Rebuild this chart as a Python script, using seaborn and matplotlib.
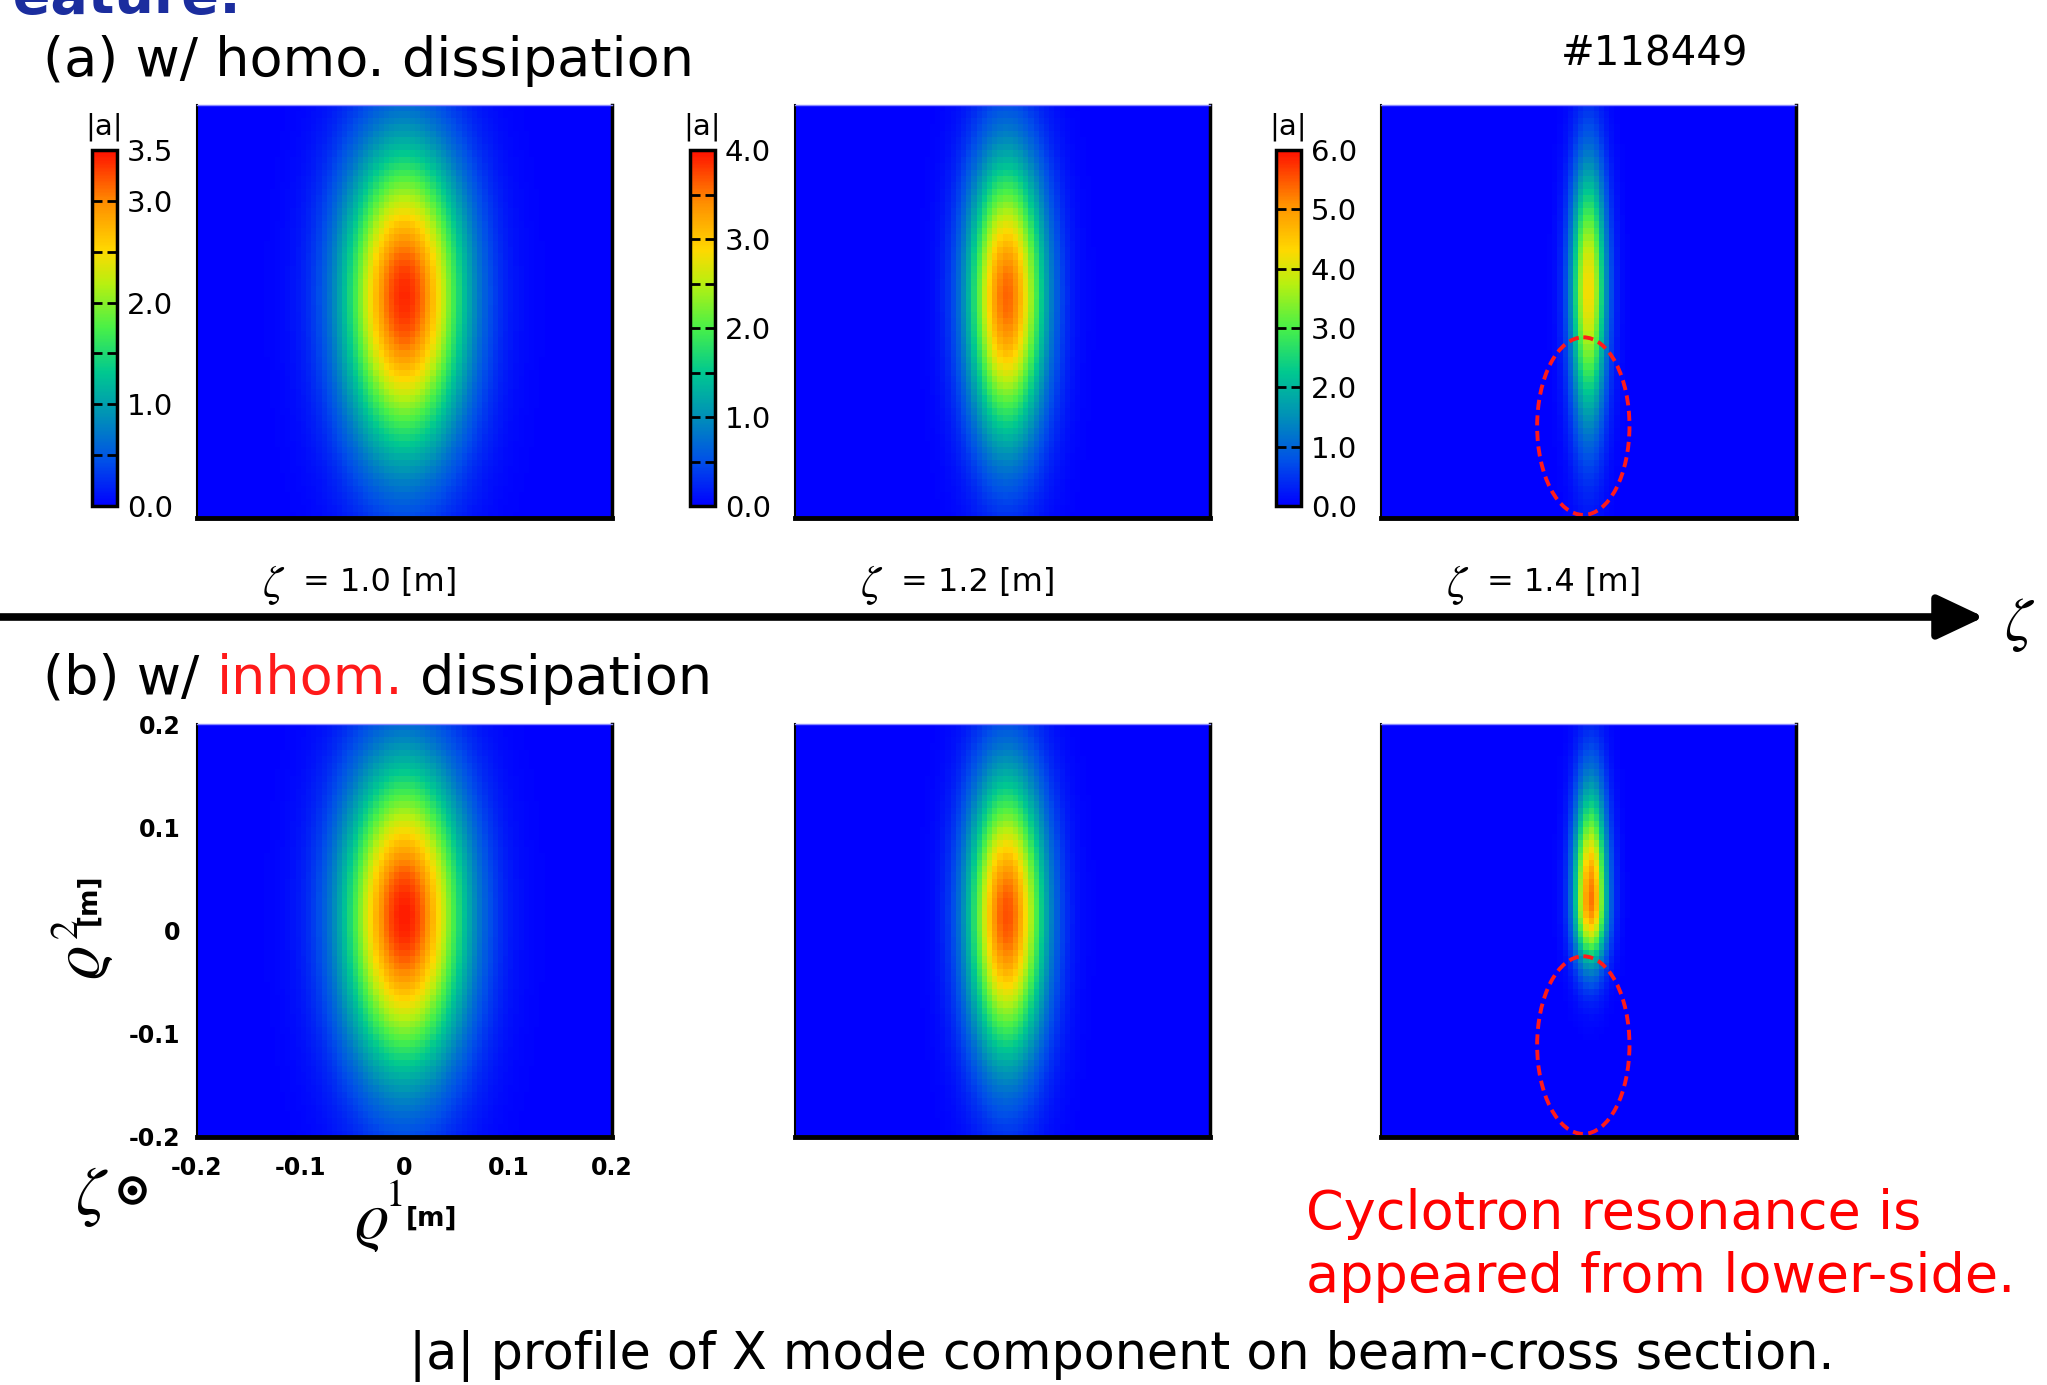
import numpy as np
import matplotlib
matplotlib.use('Agg')
import matplotlib.pyplot as plt
import seaborn as sns
from matplotlib.colors import LinearSegmentedColormap
from matplotlib.patches import Ellipse, FancyArrowPatch
from matplotlib.lines import Line2D

plt.rcParams['font.family'] = ['DejaVu Sans']
plt.rcParams['mathtext.fontset'] = 'custom'
plt.rcParams['mathtext.it'] = 'STIXGeneral:italic'
plt.rcParams['mathtext.rm'] = 'STIXGeneral'
plt.rcParams['mathtext.bf'] = 'DejaVu Sans:bold'

# beam-cross section (rho1, rho2 in m)
rho_lim = 0.2
n_cols, n_rows = 80, 64
rho_ticks = [-0.2, -0.1, 0.0, 0.1, 0.2]
rho_tick_labels = ['-0.2', '-0.1', '0', '0.1', '0.2']

zeta_values = [1.0, 1.2, 1.4]
cbar_max = [3.5, 4.0, 6.0]
cbar_ticks = [[0.0, 1.0, 2.0, 3.0, 3.5],
              [0.0, 1.0, 2.0, 3.0, 4.0],
              [0.0, 1.0, 2.0, 3.0, 4.0, 5.0, 6.0]]
cbar_dash_step = [0.5, 0.5, 1.0]

# beam: peak |a|, centre and widths [m]
homo_peak = [3.4, 3.6, 4.3]
homo_rho1_center = [0.0, 0.004, 0.0]
homo_rho2_center = [0.015, 0.015, 0.022]
homo_width_rho1 = [0.041, 0.026, 0.012]
homo_width_up = [0.102, 0.095, 0.085]
homo_width_down = [0.106, 0.098, 0.09]

inhom_peak = [3.45, 3.7, 5.3]
inhom_rho1_center = [0.0, 0.004, 0.002]
inhom_rho2_center = [0.015, 0.015, 0.029]
inhom_width_rho1 = [0.041, 0.026, 0.011]
inhom_width_up = [0.102, 0.095, 0.075]
inhom_width_down = [0.106, 0.098, 0.042]

# resonance region marked on the zeta = 1.4 m panels
res_center = (-0.005, -0.111)
res_size = (0.089, 0.172)


def beam(peak, c1, c2, w1, w_up, w_down):
    rho1 = np.linspace(-rho_lim, rho_lim, n_cols)
    rho2 = np.linspace(rho_lim, -rho_lim, n_rows)
    R1, R2 = np.meshgrid(rho1, rho2)
    w2 = np.where(R2 >= c2, w_up, w_down)
    return peak * np.exp(-0.5 * ((R1 - c1) / w1) ** 2 - 0.5 * ((R2 - c2) / w2) ** 2)


def to_col(r):
    return (r + rho_lim) / (2 * rho_lim) * n_cols


def to_row(r):
    return (rho_lim - r) / (2 * rho_lim) * n_rows


rainbow = LinearSegmentedColormap.from_list('rainbow_a', [
    (0.0, '#0000ff'), (0.125, '#0050e8'), (0.25, '#0090b8'), (0.375, '#00c890'),
    (0.5, '#48f048'), (0.625, '#b8f010'), (0.72, '#ffd800'), (0.85, '#ff9000'),
    (1.0, '#ff1000')])

W, H = 2047, 1385
fig = plt.figure(figsize=(W / 100, H / 100), dpi=100)


def fx(px):
    return px / W


def fy(py):
    return 1 - py / H


panel_left = [197, 795, 1381]
row_top = [105, 724]
panel_w, panel_h = 415, 413

rows = [
    (homo_peak, homo_rho1_center, homo_rho2_center, homo_width_rho1, homo_width_up, homo_width_down),
    (inhom_peak, inhom_rho1_center, inhom_rho2_center, inhom_width_rho1, inhom_width_up, inhom_width_down),
]

for r, params in enumerate(rows):
    for c in range(3):
        field = beam(*[p[c] for p in params])
        ax = fig.add_axes([fx(panel_left[c]), fy(row_top[r] + panel_h), panel_w / W, panel_h / H])
        cax = None
        if r == 0:
            cax = fig.add_axes([fx(panel_left[c] - 105), fy(506), 25 / W, 356 / H])
        sns.heatmap(field, ax=ax, cmap=rainbow, vmin=0, vmax=cbar_max[c],
                    cbar=(r == 0), cbar_ax=cax, xticklabels=False, yticklabels=False,
                    rasterized=True)
        for side in ['left', 'right', 'top', 'bottom']:
            ax.spines[side].set_visible(True)
            ax.spines[side].set_color('black')
        ax.spines['left'].set_linewidth(1.5)
        ax.spines['bottom'].set_linewidth(3.5)
        ax.spines['right'].set_linewidth(2.5)
        ax.spines['top'].set_linewidth(1)
        ax.spines['top'].set_color('#8a8aff')
        if r == 0:
            cb = ax.collections[0].colorbar
            cb.set_ticks(cbar_ticks[c])
            cb.set_ticklabels(['%.1f' % t for t in cbar_ticks[c]])
            cax.tick_params(length=0, labelsize=21, pad=7)
            cb.outline.set_linewidth(2.5)
            cb.outline.set_edgecolor('black')
            for v in np.arange(cbar_dash_step[c], cbar_max[c] - 1e-6, cbar_dash_step[c]):
                cax.axhline(v, color='black', lw=2, ls=(0, (3.6, 1.8)))
            cax.set_title('|a|', fontsize=21, pad=11)
        if c == 2:
            ax.add_patch(Ellipse((to_col(res_center[0]), to_row(res_center[1])),
                                 res_size[0] / (2 * rho_lim) * n_cols,
                                 res_size[1] / (2 * rho_lim) * n_rows,
                                 fill=False, ec='#ff1a1a', lw=2.8, ls=(0, (2.6, 1.4))))
        if r == 1 and c == 0:
            ax.set_xticks([to_col(v) for v in rho_ticks])
            ax.set_xticklabels(rho_tick_labels, fontsize=17, fontweight='bold', rotation=0)
            ax.set_yticks([to_row(v) for v in rho_ticks])
            ax.set_yticklabels(rho_tick_labels, fontsize=17, fontweight='bold', rotation=0)
            ax.tick_params(axis='x', length=0, pad=14)
            ax.tick_params(axis='y', length=0, pad=12)

# zeta positions under the top row and the propagation arrow
for c, z in enumerate(zeta_values):
    xc = panel_left[c] + panel_w / 2 - 45
    fig.text(fx(xc - 97), fy(597), r'$\zeta$', fontsize=32, ha='left', va='baseline')
    fig.text(fx(xc + 21), fy(591), '= %.1f [m]' % z, fontsize=23, ha='center', va='baseline')

arrow = FancyArrowPatch((0, fy(617)), (fx(1984), fy(617)), transform=fig.transFigure,
                        arrowstyle='-|>,head_length=1.8,head_width=0.85', mutation_scale=16,
                        lw=5.5, color='black', shrinkA=0, shrinkB=0)
fig.add_artist(arrow)
fig.text(fx(2020), fy(624), r'$\zeta$', fontsize=44, ha='center', va='center')

# titles
fig.text(fx(-22), fy(13), 'Feature:', fontsize=40, fontweight='bold', color='#1b2d9e', va='baseline')
fig.text(fx(43), fy(76), '(a) w/ homo. dissipation', fontsize=39, va='baseline')
fig.text(fx(1655), fy(65), '#118449', fontsize=29, ha='center', va='baseline')

renderer = fig.canvas.get_renderer()


def text_width(s, **kw):
    t = fig.text(0, 0, s, **kw)
    w = t.get_window_extent(renderer).width / W
    t.remove()
    return w


yb = fy(694)
x0 = fx(43)
fig.text(x0, yb, '(b) w/', fontsize=39, va='baseline')
fig.text(x0 + text_width('(b) w/ inhom.', fontsize=39) - text_width('inhom.', fontsize=39), yb,
         'inhom.', fontsize=39, color='#ff1a1a', va='baseline')
fig.text(x0 + text_width('(b) w/ inhom. dissipation', fontsize=39) - text_width('dissipation', fontsize=39),
         yb, 'dissipation', fontsize=39, va='baseline')

# axis labels of the lower-left panel
fig.text(fx(371), fy(1221), r'$\varrho$', fontsize=48, ha='center', va='center')
fig.text(fx(394), fy(1195), r'$\mathrm{1}$', fontsize=28, ha='center', va='center')
fig.text(fx(431), fy(1219), '[m]', fontsize=19, fontweight='bold', ha='center', va='center')
fig.text(fx(82), fy(963), r'$\varrho$', fontsize=48, ha='center', va='center', rotation=90)
fig.text(fx(67), fy(930), r'$\mathrm{2}$', fontsize=28, ha='center', va='center', rotation=90)
fig.text(fx(88), fy(899), '[m]', fontsize=19, fontweight='bold', ha='center', va='center', rotation=90)

fig.text(fx(92), fy(1196), r'$\zeta$', fontsize=48, ha='center', va='center')
fig.add_artist(Line2D([fx(132)], [fy(1190)], transform=fig.transFigure, marker='o', ms=17,
                      mfc='white', mec='black', mew=3.5, ls='none'))
fig.add_artist(Line2D([fx(132)], [fy(1190)], transform=fig.transFigure, marker='o', ms=6,
                      color='black', ls='none'))

fig.text(fx(1306), fy(1229), 'Cyclotron resonance is', fontsize=39, color='#ff0000', va='baseline')
fig.text(fx(1306), fy(1292), 'appeared from lower-side.', fontsize=39, color='#ff0000', va='baseline')
fig.text(fx(1122), fy(1369), '|a| profile of X mode component on beam-cross section.',
         fontsize=36.5, ha='center', va='baseline')

fig.savefig('out.png', dpi=100)
